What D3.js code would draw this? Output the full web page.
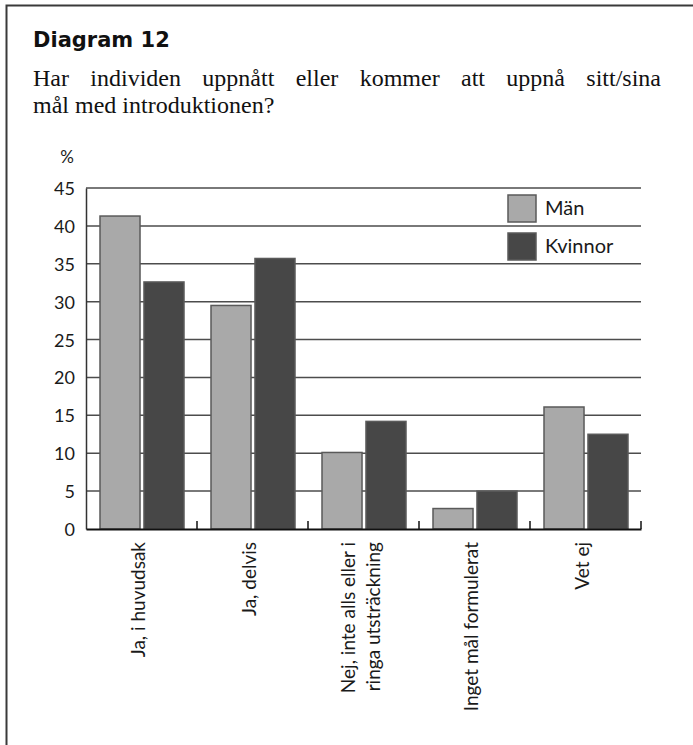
<!DOCTYPE html>
<html>
<head>
<meta charset="utf-8">
<script src="https://cdn.jsdelivr.net/npm/d3@7"></script>
<style>
  body { margin: 0; background: #fff; }
  svg { display: block; }
  .tick-label, .cat-label, .legend-text, .unit { font-family: Lato, "Open Sans", sans-serif; fill: #1a1a1a; }
</style>
</head>
<body>
<div id="chart"></div>
<script>
const categories = ['Ja, i huvudsak', 'Ja, delvis', 'Nej, inte alls eller i|ringa utsträckning', 'Inget mål formulerat', 'Vet ej'];
const series = ['Män', 'Kvinnor'];
const manValues = [41.3, 29.5, 10.1, 2.7, 16.1];
const kvinnorValues = [32.6, 35.7, 14.2, 5.0, 12.5];
const yTicks = [0, 5, 10, 15, 20, 25, 30, 35, 40, 45];
const colors = { 'Män': '#a9a9a9', 'Kvinnor': '#474747' };

const width = 693, height = 745;
const margin = { left: 86, right: 52, top: 188, bottom: 216 };

const svg = d3.select('#chart').append('svg')
  .attr('width', width)
  .attr('height', height);

// page frame (top + left edge)
svg.append('path')
  .attr('d', 'M6.5,' + height + ' V5.5 H' + width)
  .attr('fill', 'none')
  .attr('stroke', '#3a3a3a')
  .attr('stroke-width', 2);

// title
svg.append('text')
  .attr('x', 33).attr('y', 47)
  .style('font-family', '"DejaVu Sans", sans-serif')
  .style('font-weight', 'bold')
  .style('font-size', '21px')
  .style('fill', '#111')
  .text('Diagram 12');

// subtitle, first line justified word by word
const line1 = 'Har individen uppnått eller kommer att uppnå sitt/sina'.split(' ');
const subStyle = function(sel) {
  sel.style('font-family', '"Liberation Serif", "DejaVu Serif", serif')
    .style('font-size', '24px')
    .style('fill', '#111');
};
const words = svg.append('g').selectAll('text')
  .data(line1)
  .enter()
  .append('text')
    .attr('y', 86)
    .call(subStyle)
    .text(function(d) { return d; });
let total = 0;
const wl = [];
words.each(function() { const l = this.getComputedTextLength(); wl.push(l); total += l; });
const gap = (661 - 33 - total) / (line1.length - 1);
let cx = 33;
words.attr('x', function(d, i) { const x = cx; cx += wl[i] + gap; return x; });

svg.append('text')
  .attr('x', 33).attr('y', 113)
  .call(subStyle)
  .text('mål med introduktionen?');

svg.append('text')
  .attr('class', 'unit')
  .attr('x', 67).attr('y', 163)
  .attr('text-anchor', 'middle')
  .style('font-size', '17px')
  .text('%');

// scales
const x = d3.scaleBand()
  .domain(categories)
  .range([margin.left, width - margin.right]);

const xSub = d3.scaleBand()
  .domain(series)
  .range([14, x.bandwidth() - 13])
  .paddingInner(0.09);

const y = d3.scaleLinear()
  .domain([0, 45])
  .range([height - margin.bottom, margin.top]);

// gridlines
svg.append('g')
  .selectAll('line')
  .data(yTicks.filter(function(d) { return d > 0; }))
  .enter()
  .append('line')
    .attr('x1', margin.left)
    .attr('x2', width - margin.right)
    .attr('y1', function(d) { return y(d); })
    .attr('y2', function(d) { return y(d); })
    .attr('stroke', '#4d4d4d')
    .attr('stroke-width', 1.5);

// y axis
const yAxis = d3.axisLeft(y)
  .tickValues(yTicks)
  .tickSize(0)
  .tickPadding(11);

const yG = svg.append('g')
  .attr('transform', 'translate(' + margin.left + ',0)')
  .call(yAxis);
yG.select('.domain').attr('stroke', '#333').attr('stroke-width', 1.5);
yG.selectAll('text')
  .attr('class', 'tick-label')
  .style('font-size', '18px')
  .style('font-family', 'Lato, "Open Sans", sans-serif')
  .attr('dy', '0.36em');

// bars
const rows = categories.map(function(c, i) {
  return { cat: c, values: [{ s: 'Män', v: manValues[i] }, { s: 'Kvinnor', v: kvinnorValues[i] }] };
});

const groups = svg.append('g')
  .selectAll('g')
  .data(rows)
  .enter()
  .append('g')
    .attr('transform', function(d) { return 'translate(' + x(d.cat) + ',0)'; });

groups.selectAll('rect')
  .data(function(d) { return d.values; })
  .enter()
  .append('rect')
    .attr('x', function(d) { return xSub(d.s); })
    .attr('width', xSub.bandwidth())
    .attr('y', function(d) { return y(d.v); })
    .attr('height', function(d) { return y(0) - y(d.v); })
    .attr('fill', function(d) { return colors[d.s]; })
    .attr('stroke', '#5a5a5a')
    .attr('stroke-width', 1.5);

// x axis line with inward ticks at band boundaries
const xAxis = d3.axisBottom(x)
  .tickSize(0)
  .tickFormat('');
const xG = svg.append('g')
  .attr('transform', 'translate(0,' + y(0) + ')')
  .call(xAxis);
xG.select('.domain').attr('stroke', '#111').attr('stroke-width', 2);

svg.append('g')
  .selectAll('line')
  .data(categories.slice(1).concat(['end']))
  .enter()
  .append('line')
    .attr('x1', function(d) { return d === 'end' ? width - margin.right : x(d); })
    .attr('x2', function(d) { return d === 'end' ? width - margin.right : x(d); })
    .attr('y1', y(0))
    .attr('y2', y(0) - 8)
    .attr('stroke', '#111')
    .attr('stroke-width', 1.5);

// category labels (rotated)
const labels = svg.append('g')
  .selectAll('text')
  .data(categories)
  .enter()
  .append('text')
    .attr('class', 'cat-label')
    .attr('text-anchor', 'end')
    .style('font-size', '19px')
    .attr('transform', function(d) {
      return 'translate(' + (x(d) + x.bandwidth() / 2) + ',' + (y(0) + 13) + ') rotate(-90)';
    });

labels.each(function(d) {
  const parts = d.split('|');
  const sel = d3.select(this);
  parts.forEach(function(p, i) {
    sel.append('tspan')
      .attr('x', 0)
      .attr('y', (i - (parts.length - 1) / 2) * 25)
      .attr('dy', '0.2em')
      .text(p);
  });
});

// legend
const legend = svg.append('g')
  .selectAll('g')
  .data(series)
  .enter()
  .append('g')
    .attr('transform', function(d, i) { return 'translate(508,' + (195 + i * 38) + ')'; });

legend.append('rect')
  .attr('width', 28)
  .attr('height', 27)
  .attr('fill', function(d) { return colors[d]; })
  .attr('stroke', '#5a5a5a')
  .attr('stroke-width', 1.5);

legend.append('text')
  .attr('class', 'legend-text')
  .attr('x', 37)
  .attr('y', 20)
  .style('font-size', '20px')
  .text(function(d) { return d; });
</script>
</body>
</html>
